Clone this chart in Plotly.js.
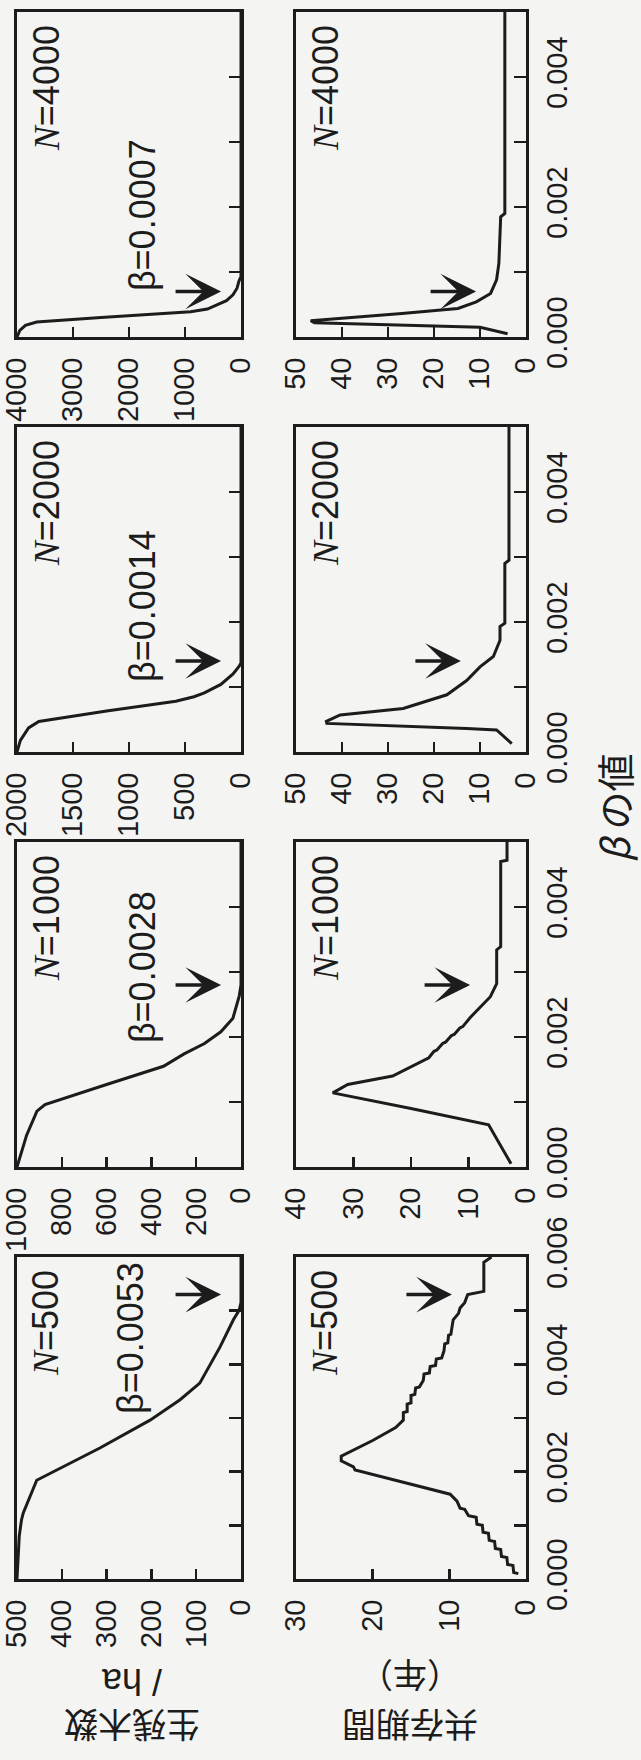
<!DOCTYPE html>
<html><head><meta charset="utf-8">
<script src="https://cdn.plot.ly/plotly-3.0.1.min.js"></script>
<style>html,body{margin:0;padding:0;background:#f4f4f2;} #chart{width:641px;height:1760px;}</style>
</head><body><div id="chart"></div>
<script>
// ---------------- data ----------------
const Ns = [500, 1000, 2000, 4000];
const criticalBeta = [0.0053, 0.0028, 0.0014, 0.0007];
const betaMax = [0.006, 0.005, 0.005, 0.005];
const survivorMax = [500, 1000, 2000, 4000];
const survivorDtick = [100, 200, 500, 1000];
const coexMax = [30, 40, 50, 50];
const coexDtick = [10, 10, 10, 10];

// survivors per ha (生残木数 / ha) vs beta
const surv500Beta  = [0, 0.0004, 0.0008, 0.0011, 0.00123, 0.00184, 0.00214, 0.00244, 0.00296, 0.00334, 0.00365, 0.00432, 0.00483, 0.00501, 0.00515, 0.006];
const surv500Trees = [500, 498, 495, 490, 486, 456, 386, 315, 203, 136, 92, 47, 17, 4, 0, 0];
const surv1000Beta  = [0, 0.00018, 0.00049, 0.00086, 0.00096, 0.00127, 0.00155, 0.00174, 0.0019, 0.00208, 0.00229, 0.00263, 0.0028, 0.005];
const surv1000Trees = [1000, 985, 957, 911, 875, 600, 346, 254, 163, 90, 36, 8, 0, 0];
const surv2000Beta  = [0, 0.00018, 0.00037, 0.00047, 0.00063, 0.00078, 0.00085, 0.00091, 0.00104, 0.0012, 0.00132, 0.00137, 0.005];
const surv2000Trees = [2000, 1970, 1897, 1805, 1200, 582, 420, 327, 180, 71, 16, 0, 0];
const surv4000Beta  = [0, 0.0001, 0.00018, 0.00023, 0.0003, 0.00035, 0.00039, 0.00043, 0.00049, 0.00056, 0.00065, 0.00075, 0.00086, 0.00093, 0.005];
const surv4000Trees = [4000, 3950, 3850, 3650, 2500, 1500, 900, 600, 429, 260, 143, 71, 36, 0, 0];

// coexistence period (共存期間, years) vs beta
const coex500Beta  = [0.0001, 0.00012, 0.00025, 0.00027, 0.0004, 0.00042, 0.00055, 0.00057, 0.0007, 0.00072, 0.00085, 0.00087, 0.001, 0.00102, 0.00115, 0.00118, 0.0013, 0.00132, 0.00145, 0.0015, 0.00158, 0.00203, 0.00209, 0.0022, 0.00229, 0.00258, 0.00282, 0.00296, 0.0031, 0.00312, 0.00326, 0.00328, 0.00342, 0.00344, 0.00356, 0.00358, 0.0037, 0.00382, 0.00384, 0.00396, 0.00398, 0.0041, 0.00412, 0.00425, 0.00438, 0.0044, 0.00454, 0.00456, 0.00468, 0.00483, 0.00495, 0.00505, 0.00515, 0.00525, 0.0053, 0.00536, 0.0059, 0.006];
const coex500Years = [1.0, 1.6, 1.7, 2.4, 2.5, 3.2, 3.3, 4.0, 4.1, 4.8, 4.9, 5.6, 5.7, 6.4, 6.5, 7.5, 8.0, 8.6, 9.0, 9.4, 9.9, 22.3, 22.5, 24.1, 24.1, 20.0, 17.0, 16.0, 16.0, 15.5, 15.5, 15.0, 15.0, 14.5, 14.4, 13.9, 13.4, 13.3, 12.6, 12.5, 11.8, 11.7, 11.0, 10.7, 10.6, 10.2, 10.1, 9.8, 9.7, 9.5, 8.8, 8.6, 8.0, 7.7, 7.6, 5.5, 5.5, 4.5];
const coex1000Beta  = [0.00005, 0.00065, 0.0009, 0.00114, 0.00127, 0.0014, 0.00168, 0.00178, 0.0018, 0.0019, 0.00192, 0.00202, 0.00204, 0.00214, 0.00216, 0.0023, 0.00262, 0.00282, 0.00334, 0.00339, 0.0047, 0.00472, 0.005];
const coex1000Years = [2.6, 6.5, 20, 33.6, 31, 23.2, 16.9, 16.0, 15.5, 14.5, 14.0, 13.0, 12.5, 11.5, 11.0, 9.7, 6.2, 5.1, 5.1, 4.4, 4.4, 3.3, 3.3];
const coex2000Beta  = [0.00013, 0.00034, 0.00036, 0.00044, 0.00047, 0.00057, 0.00067, 0.00088, 0.0011, 0.00131, 0.00147, 0.00172, 0.00193, 0.00198, 0.0029, 0.00295, 0.005];
const coex2000Years = [3.1, 6.4, 12.9, 43.3, 43.4, 40.4, 26.7, 17.2, 12.9, 10, 7.1, 5.65, 5.65, 4.6, 4.6, 3.7, 3.7];
const coex4000Beta  = [0.00005, 0.00015, 0.00022, 0.00025, 0.00029, 0.00036, 0.00044, 0.00054, 0.00067, 0.00088, 0.00113, 0.00185, 0.0019, 0.005];
const coex4000Years = [4, 10, 46, 46.8, 40, 27, 14.8, 10.8, 7.7, 6.4, 5.9, 5.5, 4.6, 4.6];

const survBeta  = [surv500Beta, surv1000Beta, surv2000Beta, surv4000Beta];
const survTrees = [surv500Trees, surv1000Trees, surv2000Trees, surv4000Trees];
const coexBeta  = [coex500Beta, coex1000Beta, coex2000Beta, coex4000Beta];
const coexYears = [coex500Years, coex1000Years, coex2000Years, coex4000Years];

// ---------------- layout (page is portrait: figure drawn rotated) ----------------
const W = 641, H = 1760;
const ink = '#1c1c1c';
const colPx = {surv: [17, 241], coex: [296, 526]};
const rowPx = [[1257, 1579], [842, 1167], [427, 752], [12, 337]];
const tickFont = {family: 'Liberation Sans, Arial, sans-serif', size: 29, color: ink};
const labelFont = {family: 'Liberation Sans, Arial, sans-serif', size: 36, color: ink};
const nLabelPos = {surv: [0.13, 0.966], coex: [0.126, 0.966]};
const betaLabelPos = [[0.504, 0.748], [0.558, 0.615], [0.558, 0.449], [0.558, 0.375]];
const arrowHeadX = {surv: [0.911, 0.911, 0.911, 0.911], coex: [0.678, 0.757, 0.717, 0.783]};

const sfx = n => (n === 1 ? '' : String(n));
const traces = [];
const layout = {
  width: W, height: H, margin: {l: 0, r: 0, t: 0, b: 0},
  paper_bgcolor: '#f4f4f2', plot_bgcolor: 'rgba(0,0,0,0)',
  showlegend: false, annotations: []
};

Ns.forEach((N, i) => {
  ['surv', 'coex'].forEach((kind, k) => {
    const n = 2 * i + k + 1;
    const [x0, x1] = colPx[kind];
    const [y0, y1] = rowPx[i];
    const vmax = kind === 'surv' ? survivorMax[i] : coexMax[i];
    layout['xaxis' + sfx(n)] = {
      domain: [x0 / W, x1 / W], anchor: 'y' + sfx(n), range: [vmax, 0],
      showline: true, mirror: true, linecolor: ink, linewidth: 3,
      ticks: 'inside', ticklen: 10, tickwidth: 2.5, tickcolor: ink,
      tick0: 0, dtick: kind === 'surv' ? survivorDtick[i] : coexDtick[i],
      tickangle: -90, tickfont: tickFont, ticklabelstandoff: 6,
      showgrid: false, zeroline: false, fixedrange: true
    };
    layout['yaxis' + sfx(n)] = {
      domain: [1 - y1 / H, 1 - y0 / H], anchor: 'x' + sfx(n), range: [0, betaMax[i]], side: 'right',
      showline: true, mirror: true, linecolor: ink, linewidth: 3,
      ticks: 'inside', ticklen: 12, tickwidth: 2.5, tickcolor: ink, tick0: 0, dtick: 0.002,
      minor: {tick0: 0, dtick: 0.001, ticks: 'inside', ticklen: 12, tickwidth: 2.5, tickcolor: ink, showgrid: false},
      showticklabels: kind === 'coex', tickformat: '.3f', tickangle: -90, tickfont: tickFont,
      ticklabelstandoff: 3, showgrid: false, zeroline: false, fixedrange: true
    };
    traces.push({
      type: 'scatter', mode: 'lines',
      x: kind === 'surv' ? survTrees[i] : coexYears[i],
      y: kind === 'surv' ? survBeta[i] : coexBeta[i],
      xaxis: 'x' + sfx(n), yaxis: 'y' + sfx(n),
      line: {color: ink, width: 3}, hoverinfo: 'skip'
    });
    // N label
    layout.annotations.push({
      xref: 'x' + sfx(n) + ' domain', yref: 'y' + sfx(n) + ' domain',
      x: nLabelPos[kind][0], y: nLabelPos[kind][1], xanchor: 'center', yanchor: 'top',
      text: '<span style="font-family:Liberation Serif,serif"><i>N</i></span>=' + N,
      textangle: -90, showarrow: false, font: labelFont
    });
    // arrow
    layout.annotations.push({
      xref: 'x' + sfx(n) + ' domain', yref: 'y' + sfx(n),
      x: arrowHeadX[kind][i], y: criticalBeta[i], ax: -47, ay: 0,
      text: '', showarrow: true, arrowhead: 3, arrowsize: 1.7, arrowwidth: 3.5, arrowcolor: ink
    });
    if (kind === 'surv') {
      layout.annotations.push({
        xref: 'x' + sfx(n) + ' domain', yref: 'y' + sfx(n) + ' domain',
        x: betaLabelPos[i][0], y: betaLabelPos[i][1], xanchor: 'center', yanchor: 'middle',
        text: 'β=' + criticalBeta[i].toFixed(4), textangle: -90, showarrow: false, font: labelFont
      });
    }
  });
});

// axis titles (upside-down y titles, rotated x title, as in the scanned figure)
const jpFont = {family: 'Noto Sans CJK JP, sans-serif', size: 34, color: ink};
const latinFont = {family: 'Liberation Sans, Arial, sans-serif', size: 36, color: ink};
layout.annotations.push(
  {xref: 'paper', yref: 'paper', x: 132 / W, y: 1 - 1727 / H, xanchor: 'center', yanchor: 'middle',
   text: '生残木数', textangle: 180, showarrow: false, font: jpFont},
  {xref: 'paper', yref: 'paper', x: 132 / W, y: 1 - 1682 / H, xanchor: 'center', yanchor: 'middle',
   text: '/ ha', textangle: 180, showarrow: false, font: latinFont},
  {xref: 'paper', yref: 'paper', x: 410 / W, y: 1 - 1727 / H, xanchor: 'center', yanchor: 'middle',
   text: '共存期間', textangle: 180, showarrow: false, font: jpFont},
  {xref: 'paper', yref: 'paper', x: 410 / W, y: 1 - 1677 / H, xanchor: 'center', yanchor: 'middle',
   text: '（年）', textangle: 180, showarrow: false, font: jpFont},
  {xref: 'paper', yref: 'paper', x: 613 / W, y: 1 - 808 / H, xanchor: 'center', yanchor: 'middle',
   text: '<i>β</i> の値', textangle: -90, showarrow: false,
   font: {family: 'Noto Sans CJK JP, sans-serif', size: 38, color: ink}}
);

Plotly.newPlot('chart', traces, layout, {staticPlot: true, displayModeBar: false});
</script></body></html>
